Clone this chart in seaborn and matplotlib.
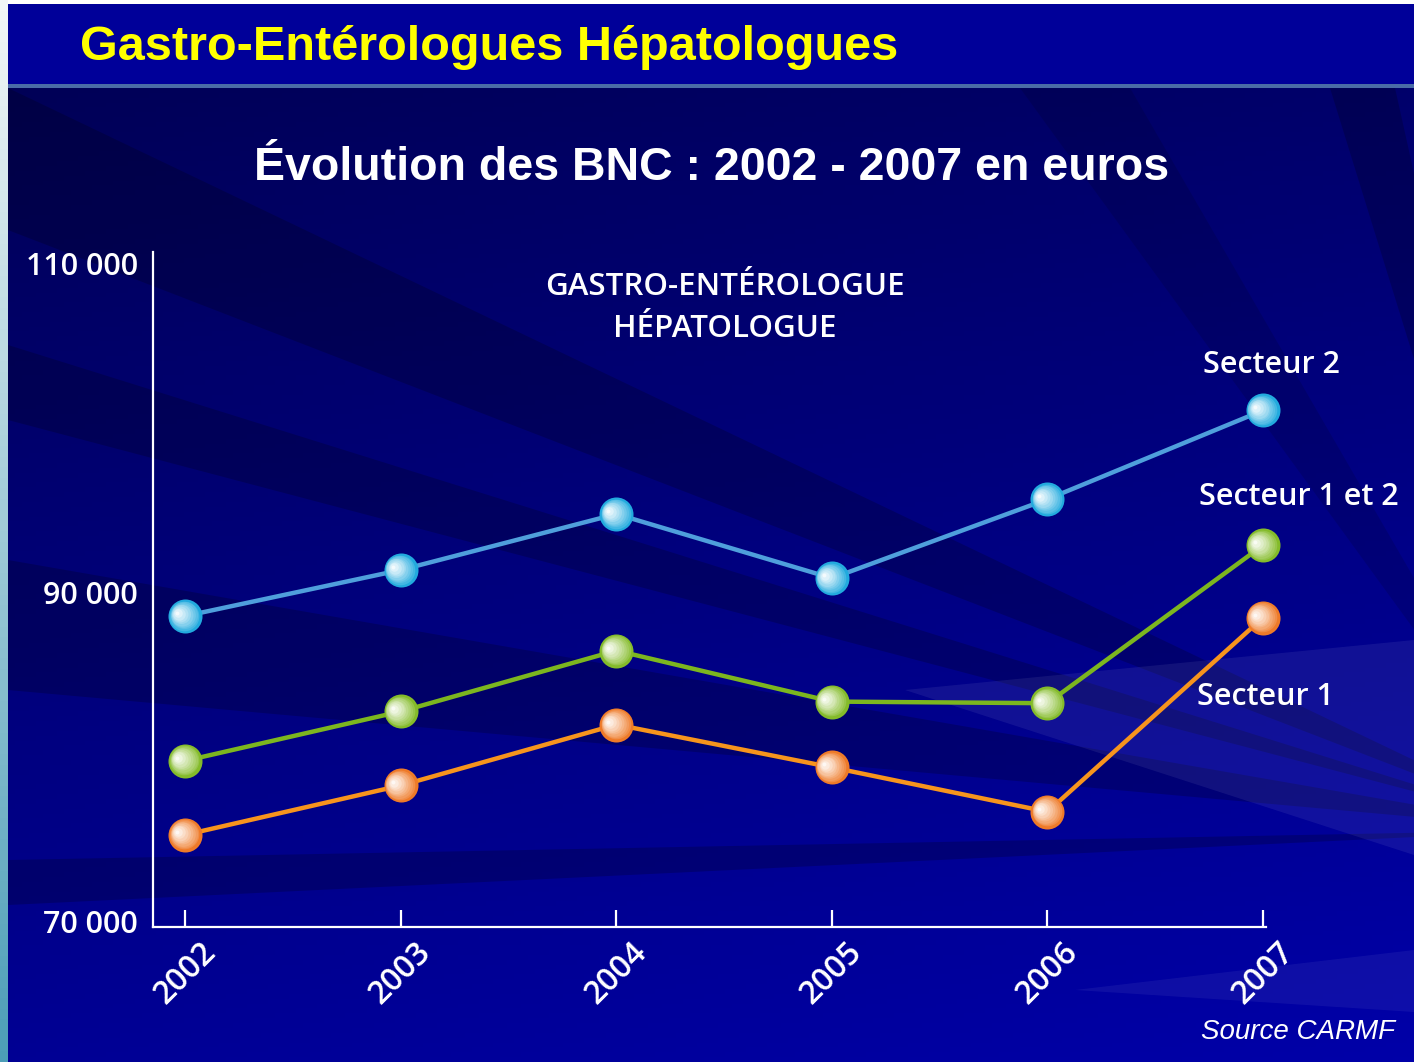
import matplotlib
matplotlib.use('Agg')
import matplotlib.pyplot as plt
import matplotlib.transforms as mtransforms
import numpy as np
import pandas as pd
import seaborn as sns
from matplotlib.colors import to_rgb
from matplotlib.patches import Polygon, Rectangle

annees = [2002, 2003, 2004, 2005, 2006, 2007]
secteur_2 = [88600, 91400, 94800, 90900, 95700, 101100]
secteur_1_et_2 = [79800, 82800, 86500, 83400, 83300, 92900]
secteur_1 = [75300, 78300, 82000, 79400, 76700, 88500]
secteurs = ['Secteur 2', 'Secteur 1 et 2', 'Secteur 1']
y_ticks = [70000, 90000, 110000]

line_colors = {'Secteur 2': '#4f9fdc', 'Secteur 1 et 2': '#7cb61f', 'Secteur 1': '#f7941d'}
ball_colors = {'Secteur 2': '#22aade', 'Secteur 1 et 2': '#84bb2a', 'Secteur 1': '#ee7a28'}
# label offsets (points) from the last point of each series
label_offsets = {'Secteur 2': (6, 33), 'Secteur 1 et 2': (26, 35), 'Secteur 1': (2, -57)}

W, H = 1414, 1062
sns.set_theme(style='white')
plt.rcParams['font.family'] = ['Open Sans', 'DejaVu Sans']
TXT = dict(color='white', fontweight='semibold')

df = pd.DataFrame({
    'annee': annees * 3,
    'bnc': secteur_2 + secteur_1_et_2 + secteur_1,
    'secteur': np.repeat(secteurs, len(annees)),
})

fig = plt.figure(figsize=(W / 100, H / 100), dpi=100)
fig.patch.set_facecolor('white')

# background: slide decoration in pixel coordinates
bg = fig.add_axes([0, 0, 1, 1])
bg.set_xlim(0, W)
bg.set_ylim(H, 0)
bg.axis('off')

yy, xx = np.mgrid[0:1:200j, 0:1:200j]
blue = 0.34 + 0.24 * yy + 0.08 * xx
grad = np.dstack([np.zeros_like(blue), np.zeros_like(blue), blue])
bg.imshow(grad, extent=[8, W, H, 88], aspect='auto', zorder=0)

strip = np.linspace(0, 1, 100)[:, None]
left = np.dstack([0.95 - 0.65 * strip, 0.97 - 0.35 * strip, 0.97 - 0.25 * strip])
bg.imshow(left, extent=[0, 8, H, 0], aspect='auto', zorder=0)

focus = (1560, 830)
dark_rays = [(88, 230), (345, 420), (560, 690), (860, 905)]
for y0, y1 in dark_rays:
    bg.add_patch(Polygon([(8, y0), (8, y1), focus], closed=True, color='black', alpha=0.2, lw=0, zorder=1))
bg.add_patch(Polygon([(1330, 88), (1395, 88), focus], closed=True, color='black', alpha=0.2, lw=0, zorder=1))
bg.add_patch(Polygon([(1020, 88), (1130, 88), focus], closed=True, color='black', alpha=0.12, lw=0, zorder=1))
bg.add_patch(Polygon([(905, 690), (W, 640), (W, 855)], closed=True, color='white', alpha=0.07, lw=0, zorder=1))
bg.add_patch(Polygon([(1075, 990), (W, 950), (W, 1012)], closed=True, color='white', alpha=0.06, lw=0, zorder=1))

bg.add_patch(Rectangle((8, 4), W - 8, 80, color='#000099', lw=0, zorder=2))
bg.add_patch(Rectangle((8, 84), W - 8, 4, color='#4a6ca6', lw=0, zorder=2))

bg.text(80, 48, 'Gastro-Entérologues Hépatologues', color='#ffff00', fontsize=35,
        fontweight='bold', family='Liberation Sans', ha='left', va='center', zorder=3)
bg.text(712, 168, 'Évolution des BNC : 2002 - 2007 en euros', color='white', fontsize=33.5,
        fontweight='bold', family='Liberation Sans', ha='center', va='center', zorder=3)
bg.text(725, 308, 'GASTRO-ENTÉROLOGUE\nHÉPATOLOGUE', fontsize=22.5,
        ha='center', va='center', linespacing=1.55, zorder=3, **TXT)
bg.text(1395, 1032, 'Source CARMF', color='white', fontsize=20, style='italic',
        family='Liberation Sans', ha='right', va='center', zorder=3)

# chart
ax = fig.add_axes([153 / W, 1 - 927 / H, (1266 - 153) / W, (927 - 252) / H])
ax.patch.set_alpha(0)
ax.set_xlim(2001.85, 2007.014)
ax.set_ylim(69696, 110729)

sns.lineplot(data=df, x='annee', y='bnc', hue='secteur', palette=line_colors,
             linewidth=3.2, legend=False, ax=ax, zorder=3)


def draw_spheres(ax, x, y, color):
    base = np.array(to_rgb(color))
    ax.scatter(x, y, s=600, color=base, linewidths=0, zorder=5, clip_on=False)
    n = 9
    for i in range(n):
        k = (i + 1) / n
        tr = mtransforms.offset_copy(ax.transData, fig=ax.figure, x=-8 * k,
                                     y=3 * k, units='dots')
        ax.scatter(x, y, s=520 * (1 - k) ** 1.3 + 8, color=base + (1 - base) * (0.05 + 0.9 * k),
                   linewidths=0, transform=tr, zorder=6 + i, clip_on=False)


for name, values in zip(secteurs, [secteur_2, secteur_1_et_2, secteur_1]):
    draw_spheres(ax, annees, values, ball_colors[name])
    ax.annotate(name, xy=(annees[-1], values[-1]), xytext=label_offsets[name],
                textcoords='offset points', fontsize=22,
                ha='center', va='center', annotation_clip=False, **TXT)

ax.set_xticks(annees)
ax.set_xticklabels([str(a) for a in annees], rotation=45, ha='center', fontsize=23, **TXT)
shift = mtransforms.ScaledTranslation(-10 / 100, 0, fig.dpi_scale_trans)
for lab in ax.get_xticklabels():
    lab.set_transform(lab.get_transform() + shift)
ax.set_yticks(y_ticks)
ax.set_yticklabels([f'{v:,}'.replace(',', ' ') for v in y_ticks], fontsize=22, **TXT)
ax.tick_params(axis='x', bottom=True, direction='in', length=12, width=1.6, colors='white', pad=6)
ax.tick_params(axis='y', length=0, pad=11, colors='white')
ax.set_xlabel('')
ax.set_ylabel('')
for side in ['top', 'right']:
    ax.spines[side].set_visible(False)
for side in ['left', 'bottom']:
    ax.spines[side].set_color('white')
    ax.spines[side].set_linewidth(1.6)

fig.savefig('out.png', dpi=100, facecolor=fig.get_facecolor())
